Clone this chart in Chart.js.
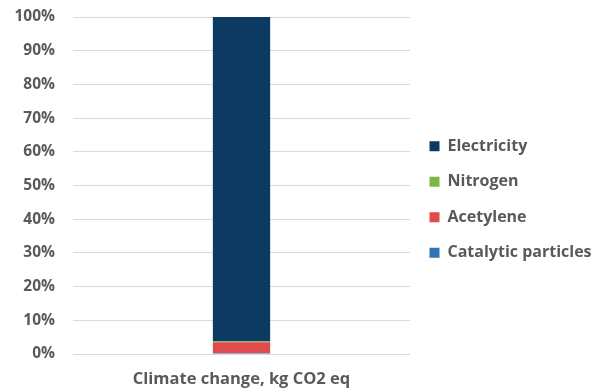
<!DOCTYPE html>
<html>
<head>
<meta charset="utf-8">
<script src="https://cdn.jsdelivr.net/npm/chart.js@4"></script>
<style>
  html, body { margin: 0; padding: 0; background: #fff; }
  #wrap { width: 591px; height: 392px; }
</style>
</head>
<body>
<div id="wrap"><canvas id="c" width="591" height="392"></canvas></div>
<script>
// Share of climate change impact (kg CO2 eq) by contributor, in percent
const categories = ['Climate change, kg CO2 eq'];
const catalyticParticles = [0.3];
const acetylene = [3.2];
const nitrogen = [0.3];
const electricity = [96.2];
const yTicks = [0, 10, 20, 30, 40, 50, 60, 70, 80, 90, 100];

const textColor = '#595959';
const fontFamily = '"Open Sans", Lato, "Liberation Sans", sans-serif';

// Nudge the right-hand legend a little above the vertical centre
const legendNudge = {
  id: 'legendNudge',
  afterLayout(chart) {
    const lg = chart.legend;
    if (lg) {
      lg.top -= 4;
      lg.bottom -= 4;
    }
  }
};

new Chart(document.getElementById('c'), {
  type: 'bar',
  data: {
    labels: categories,
    datasets: [
      { label: 'Catalytic particles', data: catalyticParticles, backgroundColor: '#2e75b6' },
      { label: 'Acetylene', data: acetylene, backgroundColor: '#e04b4b' },
      { label: 'Nitrogen', data: nitrogen, backgroundColor: '#7ab648' },
      { label: 'Electricity', data: electricity, backgroundColor: '#0d3a63' }
    ]
  },
  plugins: [legendNudge],
  options: {
    responsive: false,
    animation: false,
    barPercentage: 1,
    categoryPercentage: 0.17,
    layout: { padding: { top: 17, left: 0, right: 0, bottom: 2 } },
    plugins: {
      legend: {
        position: 'right',
        reverse: true,
        maxWidth: 181,
        labels: {
          boxWidth: 10,
          boxHeight: 10,
          padding: 19.5,
          color: textColor,
          font: { family: fontFamily, size: 16, weight: 'bold' }
        }
      },
      tooltip: { enabled: false }
    },
    scales: {
      x: {
        stacked: true,
        grid: { display: false },
        border: { display: false },
        afterFit: axis => {
          axis.height = 36;
          axis.paddingTop = 0;
          axis.paddingBottom = 0;
        },
        ticks: { color: textColor, font: { family: fontFamily, size: 16.5, weight: 'bold' }, padding: 7 }
      },
      y: {
        stacked: true,
        min: 0,
        max: 100,
        afterBuildTicks: axis => { axis.ticks = yTicks.map(v => ({ value: v })); },
        afterFit: axis => {
          axis.width = 73;
          axis.paddingTop = 0;
          axis.paddingBottom = 0;
        },
        grid: { color: '#d9d9d9', lineWidth: 1, drawTicks: false },
        border: { display: false },
        ticks: {
          color: textColor,
          padding: 18,
          font: { family: fontFamily, size: 15.5, weight: 'bold' },
          callback: v => v + '%'
        }
      }
    }
  }
});
</script>
</body>
</html>
